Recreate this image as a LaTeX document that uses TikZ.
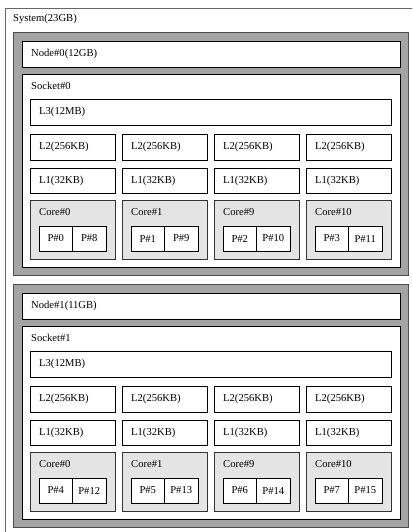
\documentclass[tikz,border=0pt]{standalone}
\usepackage{fontspec}
\setmainfont{Liberation Serif}
\definecolor{numagray}{RGB}{164,164,164}
\definecolor{coregray}{RGB}{228,228,228}

\begin{document}
\begin{tikzpicture}[x=1pt,y=-1pt,font=\fontsize{10.6}{12}\selectfont,
    frame/.style={draw, line width=0.7pt, anchor=north west, inner sep=0pt, outer sep=0pt},
    cell/.style={frame, fill=white},
    numabox/.style={frame, fill=numagray, draw=black!70},
    corebox/.style={frame, fill=coregray, draw=black!80},
    tag/.style={anchor=west, inner sep=0pt}]
  \useasboundingbox (0,0) rectangle (412,532);
  \clip (0,0) rectangle (412,532);
  % whole machine
  \node[frame, fill=white, draw=black!60, minimum width=420pt, minimum height=540pt] (sys) at (5,8) {};
  \node[tag] (sys-tag) at (13,19) {System(23GB)};
  % one block per NUMA node
  \foreach \n/\ty/\mem in {0/32/12GB, 1/284/11GB} {
    \node[numabox, minimum width=395pt, minimum height=243pt] (numa\n) at (13,\ty) {};
    \node[cell, minimum width=378pt, minimum height=26pt] (mem\n) at (22,\ty+9) {};
    \node[tag] at ([xshift=9pt]mem\n.west) {Node\#\n(\mem)};
    \node[cell, minimum width=378pt, minimum height=193pt] (sock\n) at (22,\ty+42) {};
    \node[tag] at (31,\ty+54) {Socket\#\n};
    \node[cell, minimum width=361pt, minimum height=26pt] (l3-\n) at (30,\ty+67) {};
    \node[tag] at ([xshift=9pt]l3-\n.west) {L3(12MB)};
    \foreach \col/\cname in {0/0, 1/1, 2/9, 3/10} {
      \pgfmathsetmacro\x{30+92*\col}
      \pgfmathtruncatemacro\pa{4*\n+\col}
      \pgfmathtruncatemacro\pb{\pa+8}
      \node[cell, minimum width=85pt, minimum height=26pt] (l2-\n-\col) at (\x,\ty+102) {};
      \node[tag] at ([xshift=9pt]l2-\n-\col.west) {L2(256KB)};
      \node[cell, minimum width=85pt, minimum height=25pt] (l1-\n-\col) at (\x,\ty+136) {};
      \node[tag] at ([xshift=9pt]l1-\n-\col.west) {L1(32KB)};
      \node[corebox, minimum width=85pt, minimum height=59pt] (core-\n-\col) at (\x,\ty+168) {};
      \node[tag] at (\x+9,\ty+180) {Core\#\cname};
      \node[cell, minimum width=33.5pt, minimum height=25pt] (pu-\n-\col-a) at (\x+9,\ty+194) {P\#\pa};
      \node[cell, minimum width=33.5pt, minimum height=25pt] (pu-\n-\col-b) at (pu-\n-\col-a.north east) {P\#\pb};
    }
  }
\end{tikzpicture}
\end{document}
